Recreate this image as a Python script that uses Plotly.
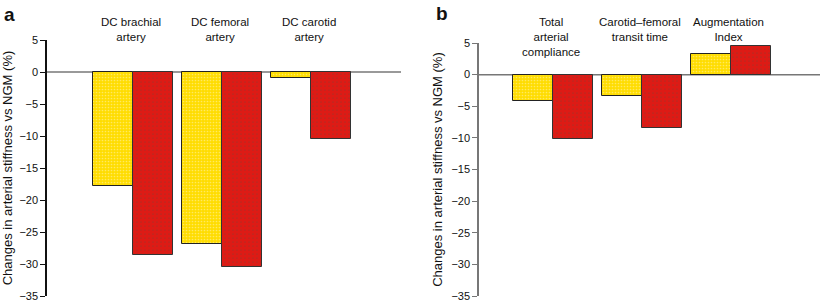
import plotly.graph_objects as go

# ---- data ----
cats_a = ["DC brachial<br>artery", "DC femoral<br>artery", "DC carotid<br>artery"]
yellow_a = [-17.8, -26.8, -1.0]
red_a = [-28.6, -30.4, -10.4]

cats_b = ["Total<br>arterial<br>compliance", "Carotid–femoral<br>transit time", "Augmentation<br>Index"]
yellow_b = [-4.1, -3.3, 3.2]
red_b = [-10.2, -8.4, 4.5]

y_ticks = [5, 0, -5, -10, -15, -20, -25, -30, -35]
y_title = "Changes in arterial stiffness vs NGM (%)"

YELLOW = "#FFDC00"
RED = "#DD1B15"
FONT = "Liberation Sans"

W, H = 820, 302

def px_x(p):
    return p / W

def px_y(p):
    return 1 - p / H

fig = go.Figure()

def add_bars(xref, yref, cats, yv, rv):
    fig.add_trace(go.Bar(
        x=cats, y=yv, xaxis=xref, yaxis=yref, offsetgroup="y", width=0.45, offset=-0.45,
        marker=dict(color=YELLOW, line=dict(color="#222", width=1),
                    pattern=dict(shape=".", fgcolor="#FFF6C0", bgcolor=YELLOW, size=3, solidity=0.25)),
        showlegend=False, hoverinfo="skip"))
    fig.add_trace(go.Bar(
        x=cats, y=rv, xaxis=xref, yaxis=yref, offsetgroup="r", width=0.45, offset=0.0,
        marker=dict(color=RED, line=dict(color="#333", width=1),
                    pattern=dict(shape=".", fgcolor="#8A3A30", bgcolor=RED, size=4, solidity=0.15)),
        showlegend=False, hoverinfo="skip"))

add_bars("x", "y", cats_a, yellow_a, red_a)
add_bars("x2", "y2", cats_b, yellow_b, red_b)

yaxis_common = dict(
    range=[-35, 5], tickvals=y_ticks, ticks="outside", ticklen=5, tickwidth=1,
    showgrid=False, zeroline=False, showline=True, linewidth=1.5, automargin=False,
    ticklabeloverflow="allow",
    tickfont=dict(family=FONT, size=11, color="#111"),
    title=dict(text=y_title, font=dict(family=FONT, size=13, color="#111"), standoff=6),
)
xaxis_common = dict(showticklabels=False, showgrid=False, zeroline=False, showline=False,
                    ticks="", type="category", automargin=False)

fig.update_layout(
    width=W, height=H, margin=dict(l=0, r=0, t=0, b=0, autoexpand=False),
    paper_bgcolor="white", plot_bgcolor="white",
    barmode="group", bargap=0, bargroupgap=0,
    xaxis=dict(domain=[px_x(47), px_x(401)], range=[-0.966, 3.01], anchor="y", **xaxis_common),
    yaxis=dict(domain=[px_y(296), px_y(40)], anchor="x", linecolor="#111", tickcolor="#111", **yaxis_common),
    xaxis2=dict(domain=[px_x(479), 1.0], range=[-0.83, 3.0], anchor="y2", **xaxis_common),
    yaxis2=dict(domain=[px_y(296), px_y(43)], anchor="x2", linecolor="#777", tickcolor="#777", **yaxis_common),
)

# zero lines
fig.add_shape(type="line", xref="x domain", yref="y", x0=0, x1=1, y0=0, y1=0,
              line=dict(color="#777", width=1.5), layer="below")
fig.add_shape(type="line", xref="x2 domain", yref="y2", x0=0, x1=1, y0=0, y1=0,
              line=dict(color="#777", width=1.5), layer="below")

# category labels above
for cats, xr in ((cats_a, "x"), (cats_b, "x2")):
    for c in cats:
        fig.add_annotation(x=c, xref=xr, y=px_y(14), yref="paper", text=c, showarrow=False,
                           yanchor="top", xanchor="center", xshift=-2,
                           font=dict(family=FONT, size=11.5, color="#111"))

# panel letters
fig.add_annotation(x=px_x(2), y=px_y(2), xref="paper", yref="paper", text="<b>a</b>",
                   showarrow=False, xanchor="left", yanchor="top",
                   font=dict(family=FONT, size=19, color="#111"))
fig.add_annotation(x=px_x(434), y=px_y(1), xref="paper", yref="paper", text="<b>b</b>",
                   showarrow=False, xanchor="left", yanchor="top",
                   font=dict(family=FONT, size=19, color="#111"))

fig.write_html("out.html", config={"displayModeBar": False},
               post_script="document.body.style.margin='0';document.body.style.overflow='hidden';")
